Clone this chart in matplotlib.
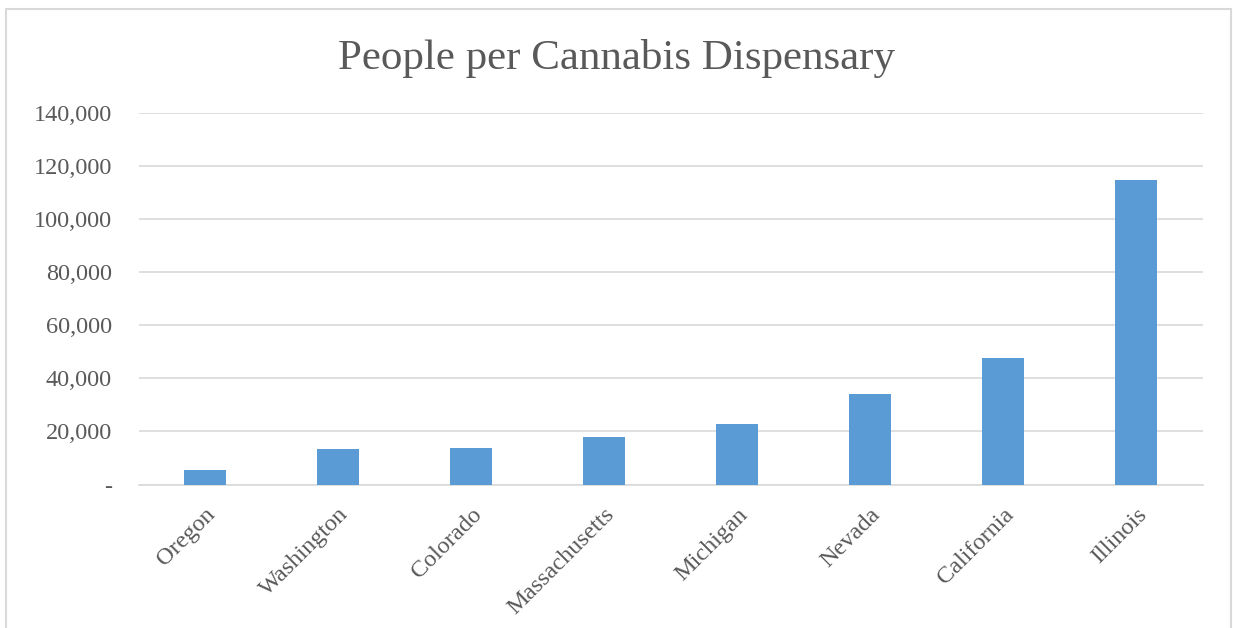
import matplotlib.pyplot as plt
import matplotlib.patches as mpatches
from matplotlib.ticker import FuncFormatter
import numpy as np

states = ["Oregon", "Washington", "Colorado", "Massachusetts",
          "Michigan", "Nevada", "California", "Illinois"]
people_per_dispensary = [5400, 13200, 13800, 17800, 22900, 34000, 47700, 114700]
y_ticks = [0, 20000, 40000, 60000, 80000, 100000, 120000, 140000]

BAR_COLOR = "#5B9BD5"
TEXT_GRAY = "#595959"
GRID_GRAY = "#D9D9D9"

plt.rcParams.update({
    "font.family": ["Liberation Serif", "DejaVu Serif"],
})

W, H = 1233, 628
fig = plt.figure(figsize=(W / 100, H / 100), dpi=100)
fig.patch.set_facecolor("white")

# chart-area border (Excel style), bottom edge runs off the image
fig.add_artist(mpatches.Rectangle((6 / W, -0.05), (1231 - 6) / W, 1.05 - 9 / H,
                                  transform=fig.transFigure, fill=False,
                                  edgecolor="#D9D9D9", linewidth=1.5))

left, right = 138.5 / W, 1202.5 / W
top, bottom = 1 - 113 / H, 1 - 484.5 / H
ax = fig.add_axes([left, bottom, right - left, top - bottom])

x = np.arange(len(states))
ax.bar(x, people_per_dispensary, width=0.31, color=BAR_COLOR, zorder=3)

ax.set_xlim(-0.5, len(states) - 0.5)
ax.set_ylim(0, 140000)
ax.set_yticks(y_ticks)
ax.yaxis.set_major_formatter(FuncFormatter(lambda v, p: "-" if v == 0 else f"{int(v):,}"))
ax.grid(axis="y", color=GRID_GRAY, linewidth=1.2, zorder=0)

for s in ["top", "right", "left"]:
    ax.spines[s].set_visible(False)
ax.spines["bottom"].set_color(GRID_GRAY)
ax.spines["bottom"].set_linewidth(1.2)

ax.tick_params(axis="both", length=0, colors=TEXT_GRAY, labelsize=17.5)
ax.tick_params(axis="y", pad=19)
ax.set_xticks(x)
ax.set_xticklabels(states, rotation=45, ha="right", rotation_mode="anchor")
ax.tick_params(axis="x", pad=14)

fig.text(0.5, 1 - 59 / H, "People per Cannabis Dispensary", ha="center", va="center",
         fontsize=31, color=TEXT_GRAY)

fig.savefig("out.png", dpi=100, facecolor="white")
